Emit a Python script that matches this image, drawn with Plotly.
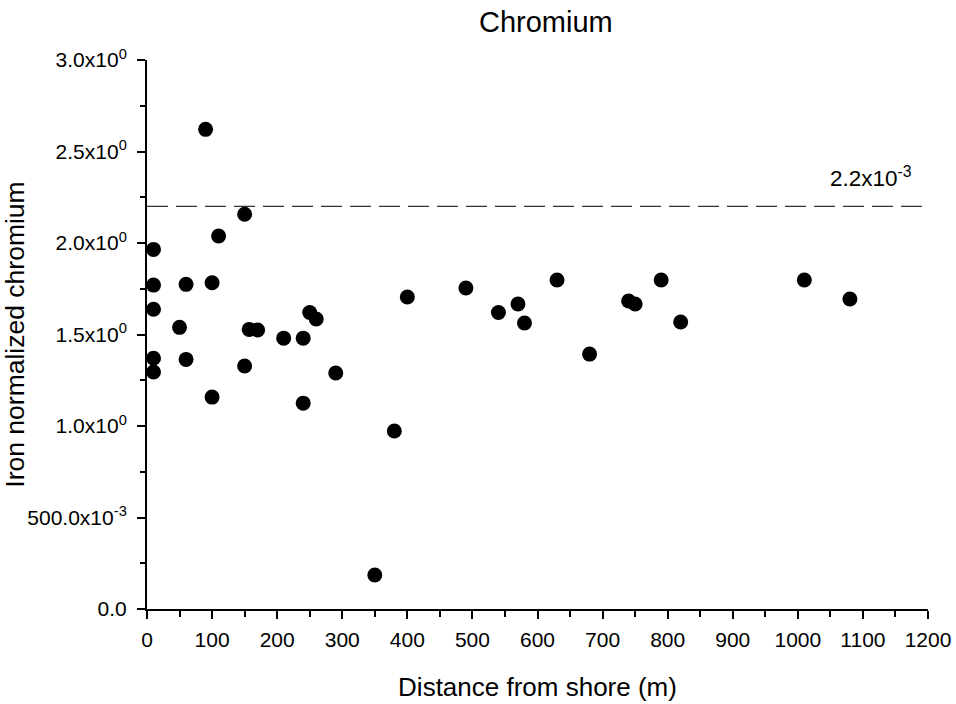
import plotly.graph_objects as go

distance_m = [10, 10, 10, 10, 10, 50, 60, 60, 90, 100, 100, 110, 150, 150, 157, 170,
              210, 240, 240, 250, 260, 290, 350, 380, 400, 490, 540, 570, 580, 630,
              680, 740, 750, 790, 820, 1010, 1080]
iron_norm_cr = [1.965, 1.77, 1.638, 1.37, 1.295, 1.539, 1.774, 1.364, 2.621, 1.783, 1.158,
                2.038, 2.157, 1.328, 1.528, 1.525, 1.48, 1.125, 1.48, 1.62, 1.585, 1.29,
                0.186, 0.973, 1.705, 1.754, 1.62, 1.667, 1.563, 1.798, 1.393, 1.683,
                1.667, 1.798, 1.568, 1.798, 1.694]

threshold = 2.2
threshold_label = "2.2x10<sup>-3</sup>"

x_ticks = list(range(0, 1201, 100))
y_tickvals = [0.0, 0.5, 1.0, 1.5, 2.0, 2.5, 3.0]
y_ticktext = ["0.0", "500.0x10<sup>-3</sup>", "1.0x10<sup>0</sup>", "1.5x10<sup>0</sup>",
              "2.0x10<sup>0</sup>", "2.5x10<sup>0</sup>", "3.0x10<sup>0</sup>"]

FONT = "Liberation Sans, Arial, Helvetica, sans-serif"

fig = go.Figure()
fig.add_trace(go.Scatter(
    x=[0, 1200], y=[threshold, threshold], mode="lines",
    line=dict(color="#333333", width=1.2, dash="21px,8px"),
    hoverinfo="skip", showlegend=False, cliponaxis=False,
))
fig.add_trace(go.Scatter(
    x=distance_m, y=iron_norm_cr, mode="markers",
    marker=dict(color="black", size=15, line=dict(width=0)),
    showlegend=False, cliponaxis=False,
))

fig.add_annotation(x=1112, y=2.36, text=threshold_label, showarrow=False,
                   xanchor="center", yanchor="middle",
                   font=dict(family=FONT, size=22.5, color="black"))

fig.update_layout(
    template="none",
    width=956, height=704,
    margin=dict(l=147, r=28, t=60, b=95),
    paper_bgcolor="white", plot_bgcolor="white",
    font=dict(family=FONT, color="black"),
    title=dict(text="Chromium", x=0.571, xref="container", xanchor="center",
               y=1 - 22 / 704, yref="container", yanchor="middle",
               font=dict(family=FONT, size=29, color="black")),
    xaxis=dict(
        automargin=False,
        range=[0, 1200], tickmode="array", tickvals=x_ticks,
        ticks="outside", ticklen=8, tickwidth=2, tickcolor="black",
        ticklabelstandoff=3,
        showline=True, linecolor="black", linewidth=2, mirror=False,
        showgrid=False, zeroline=False,
        tickfont=dict(family=FONT, size=21, color="black"),
        minor=dict(dtick=50, ticks="outside", ticklen=6, tickwidth=1.5, tickcolor="black", showgrid=False),
        title=dict(text="Distance from shore (m)", standoff=28,
                   font=dict(family=FONT, size=26, color="black")),
    ),
    yaxis=dict(
        automargin=False,
        range=[0, 3], tickmode="array", tickvals=y_tickvals, ticktext=y_ticktext,
        ticks="outside", ticklen=8, tickwidth=2, tickcolor="black",
        ticklabelstandoff=6,
        showline=True, linecolor="black", linewidth=2, mirror=False,
        showgrid=False, zeroline=False,
        tickfont=dict(family=FONT, size=21, color="black"),
        minor=dict(dtick=0.25, ticks="outside", ticklen=5, tickwidth=1.5, tickcolor="black", showgrid=False),
        title=dict(text="Iron normalized chromium", standoff=0,
                   font=dict(family=FONT, size=26.5, color="black")),
    ),
)

fig.write_html("out.html", config={"displayModeBar": False},
               post_script="document.body.style.margin='0';")
